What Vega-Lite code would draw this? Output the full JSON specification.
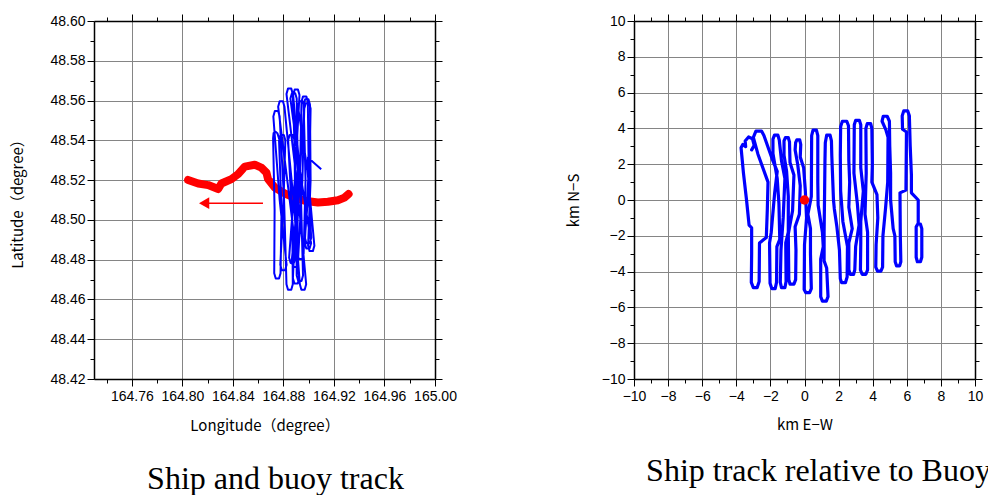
{
"$schema": "https://vega.github.io/schema/vega-lite/v6.json",
"padding": {"left": 10, "top": 13, "right": 0, "bottom": 6},
"spacing": 199,
"bounds": "flush",
"config": {
 "view": {"stroke": null},
 "axis": {"domainColor": "black", "domainWidth": 1.5, "tickColor": "black", "tickWidth": 1, "labelFont": "Liberation Sans", "labelFontSize": 14, "labelColor": "black", "labelOverlap": false, "labelFlush": false, "titleFont": "Noto Sans CJK JP", "titleFontSize": 15, "titleFontWeight": "normal", "titleColor": "black", "gridColor": "#858585", "gridWidth": 1}
},
"datasets": {
 "buoy": [
  {"i":1,"lon":164.8045,"lat":48.5201},{"i":2,"lon":164.8125,"lat":48.5183},{"i":3,"lon":164.8204,"lat":48.5175},{"i":4,"lon":164.8283,"lat":48.5155},{"i":5,"lon":164.8309,"lat":48.5183},{"i":6,"lon":164.8388,"lat":48.5205},{"i":7,"lon":164.8441,"lat":48.523},{"i":8,"lon":164.8494,"lat":48.5268},{"i":9,"lon":164.8573,"lat":48.5277},{"i":10,"lon":164.8625,"lat":48.5263},{"i":11,"lon":164.8665,"lat":48.5238},{"i":12,"lon":164.8678,"lat":48.5205},{"i":13,"lon":164.8731,"lat":48.5163},{"i":14,"lon":164.881,"lat":48.5133},{"i":15,"lon":164.8889,"lat":48.5112},{"i":16,"lon":164.8968,"lat":48.5096},{"i":17,"lon":164.9073,"lat":48.5087},{"i":18,"lon":164.9152,"lat":48.5091},{"i":19,"lon":164.9231,"lat":48.5099},{"i":20,"lon":164.9284,"lat":48.5112},{"i":21,"lon":164.9316,"lat":48.513}
 ],
 "arrow": [{"i":1,"lon":164.815,"lat":48.5084},{"i":2,"lon":164.8638,"lat":48.5084}],
 "head": [{"lon":164.8172,"lat":48.5084}],
 "ship": [
  {"i":1,"lon":164.877,"lat":48.54},{"i":2,"lon":164.8752,"lat":48.5436},{"i":3,"lon":164.8738,"lat":48.5443},{"i":4,"lon":164.8722,"lat":48.5436},{"i":5,"lon":164.8718,"lat":48.541},{"i":6,"lon":164.873,"lat":48.505},
  {"i":7,"lon":164.8727,"lat":48.4732},{"i":8,"lon":164.8739,"lat":48.4705},{"i":9,"lon":164.8765,"lat":48.4705},{"i":10,"lon":164.8777,"lat":48.4732},{"i":11,"lon":164.8785,"lat":48.505},
  {"i":12,"lon":164.8765,"lat":48.54},{"i":13,"lon":164.8777,"lat":48.5427},{"i":14,"lon":164.8803,"lat":48.5427},{"i":15,"lon":164.8815,"lat":48.54},{"i":16,"lon":164.88,"lat":48.508},
  {"i":17,"lon":164.8775,"lat":48.4774},{"i":18,"lon":164.8787,"lat":48.4747},{"i":19,"lon":164.8813,"lat":48.4747},{"i":20,"lon":164.8825,"lat":48.4774},{"i":21,"lon":164.877,"lat":48.51},
  {"i":22,"lon":164.872,"lat":48.552},{"i":23,"lon":164.8732,"lat":48.5547},{"i":24,"lon":164.8758,"lat":48.5547},{"i":25,"lon":164.877,"lat":48.552},{"i":26,"lon":164.8805,"lat":48.51},
  {"i":27,"lon":164.8824,"lat":48.4676},{"i":28,"lon":164.8836,"lat":48.4649},{"i":29,"lon":164.8862,"lat":48.4649},{"i":30,"lon":164.8874,"lat":48.4676},{"i":31,"lon":164.887,"lat":48.5},
  {"i":32,"lon":164.8837,"lat":48.54},{"i":33,"lon":164.8849,"lat":48.5427},{"i":34,"lon":164.8875,"lat":48.5427},{"i":35,"lon":164.8887,"lat":48.54},{"i":36,"lon":164.8895,"lat":48.5},
  {"i":37,"lon":164.8875,"lat":48.4707},{"i":38,"lon":164.8887,"lat":48.468},{"i":39,"lon":164.8913,"lat":48.468},{"i":40,"lon":164.8925,"lat":48.4707},{"i":41,"lon":164.884,"lat":48.515},
  {"i":42,"lon":164.8758,"lat":48.5569},{"i":43,"lon":164.877,"lat":48.5596},{"i":44,"lon":164.8796,"lat":48.5596},{"i":45,"lon":164.8808,"lat":48.5569},{"i":46,"lon":164.888,"lat":48.51},
  {"i":47,"lon":164.893,"lat":48.4676},{"i":48,"lon":164.8942,"lat":48.4649},{"i":49,"lon":164.8968,"lat":48.4649},{"i":50,"lon":164.898,"lat":48.4676},{"i":51,"lon":164.8905,"lat":48.52},
  {"i":52,"lon":164.8824,"lat":48.5633},{"i":53,"lon":164.8836,"lat":48.566},{"i":54,"lon":164.8862,"lat":48.566},{"i":55,"lon":164.8874,"lat":48.5633},{"i":56,"lon":164.89,"lat":48.515},
  {"i":57,"lon":164.8905,"lat":48.472},{"i":58,"lon":164.8917,"lat":48.4693},{"i":59,"lon":164.8943,"lat":48.4693},{"i":60,"lon":164.8955,"lat":48.472},{"i":61,"lon":164.8935,"lat":48.52},
  {"i":62,"lon":164.8877,"lat":48.5628},{"i":63,"lon":164.8889,"lat":48.5655},{"i":64,"lon":164.8915,"lat":48.5655},{"i":65,"lon":164.8927,"lat":48.5628},{"i":66,"lon":164.889,"lat":48.52},
  {"i":67,"lon":164.8845,"lat":48.481},{"i":68,"lon":164.8857,"lat":48.4783},{"i":69,"lon":164.8883,"lat":48.4783},{"i":70,"lon":164.8895,"lat":48.481},{"i":71,"lon":164.893,"lat":48.52},
  {"i":72,"lon":164.8943,"lat":48.5594},{"i":73,"lon":164.8955,"lat":48.5621},{"i":74,"lon":164.8981,"lat":48.5621},{"i":75,"lon":164.8993,"lat":48.5594},{"i":76,"lon":164.9,"lat":48.525},
  {"i":77,"lon":164.8969,"lat":48.4883},{"i":78,"lon":164.8981,"lat":48.4856},{"i":79,"lon":164.9007,"lat":48.4856},{"i":80,"lon":164.9019,"lat":48.4883},{"i":81,"lon":164.893,"lat":48.525},
  {"i":82,"lon":164.8855,"lat":48.561},{"i":83,"lon":164.8867,"lat":48.5637},{"i":84,"lon":164.8893,"lat":48.5637},{"i":85,"lon":164.8905,"lat":48.561},{"i":86,"lon":164.8915,"lat":48.52},
  {"i":87,"lon":164.891,"lat":48.483},{"i":88,"lon":164.8922,"lat":48.4803},{"i":89,"lon":164.8948,"lat":48.4803},{"i":90,"lon":164.896,"lat":48.483},{"i":91,"lon":164.8975,"lat":48.52},
  {"i":92,"lon":164.896,"lat":48.558},{"i":93,"lon":164.8972,"lat":48.5607},{"i":94,"lon":164.8998,"lat":48.5607},{"i":95,"lon":164.901,"lat":48.558},{"i":96,"lon":164.9015,"lat":48.52},
  {"i":97,"lon":164.8995,"lat":48.487},{"i":98,"lon":164.9007,"lat":48.4843},{"i":99,"lon":164.9033,"lat":48.4843},{"i":100,"lon":164.9045,"lat":48.487},{"i":101,"lon":164.899,"lat":48.525},
  {"i":102,"lon":164.8915,"lat":48.557},{"i":103,"lon":164.8927,"lat":48.5597},{"i":104,"lon":164.8953,"lat":48.5597},{"i":105,"lon":164.8965,"lat":48.557},{"i":106,"lon":164.892,"lat":48.515},
  {"i":107,"lon":164.8865,"lat":48.479},{"i":108,"lon":164.8877,"lat":48.4763},{"i":109,"lon":164.8903,"lat":48.4763},{"i":110,"lon":164.8915,"lat":48.479},{"i":111,"lon":164.895,"lat":48.52},
  {"i":112,"lon":164.8965,"lat":48.556},{"i":113,"lon":164.8977,"lat":48.5587},{"i":114,"lon":164.9003,"lat":48.5587},{"i":115,"lon":164.9015,"lat":48.556},{"i":116,"lon":164.9005,"lat":48.52},
  {"i":117,"lon":164.897,"lat":48.491},{"i":118,"lon":164.8982,"lat":48.4883},{"i":119,"lon":164.9008,"lat":48.4883},{"i":120,"lon":164.902,"lat":48.491},{"i":121,"lon":164.8998,"lat":48.515},
  {"i":122,"lon":164.8994,"lat":48.5314},{"i":123,"lon":164.9099,"lat":48.5255}
 ],
 "rel": [
  {"i":1,"x":-3.1,"y":2.8},{"i":2,"x":-2.95,"y":3.05},{"i":3,"x":-3.05,"y":3.42},{"i":4,"x":-3.28,"y":3.52},{"i":5,"x":-3.48,"y":3.3},{"i":6,"x":-3.45,"y":2.98},{"i":7,"x":-3.62,"y":3.1},{"i":8,"x":-3.72,"y":2.92},{"i":9,"x":-3.58,"y":1.5},{"i":10,"x":-3.4,"y":0},
  {"i":11,"x":-3.25,"y":-1.4},{"i":12,"x":-3.1,"y":-1.55},{"i":13,"x":-3.1,"y":-3},{"i":14,"x":-3.12,"y":-4.6},{"i":15,"x":-3,"y":-4.9},{"i":16,"x":-2.78,"y":-4.9},{"i":17,"x":-2.66,"y":-4.55},{"i":18,"x":-2.64,"y":-2.4},{"i":19,"x":-2.24,"y":-2.1},{"i":20,"x":-2.18,"y":-0.5},
  {"i":21,"x":-2.14,"y":1},{"i":22,"x":-2.73,"y":2.56},{"i":23,"x":-3,"y":3.5},{"i":24,"x":-2.85,"y":3.85},{"i":25,"x":-2.52,"y":3.85},{"i":26,"x":-2.38,"y":3.6},{"i":27,"x":-1.9,"y":2.3},{"i":28,"x":-1.6,"y":1.6},{"i":29,"x":-1.75,"y":0.4},{"i":30,"x":-1.95,"y":-1.8},
  {"i":31,"x":-2.05,"y":-2.4},{"i":32,"x":-2.02,"y":-4.65},{"i":33,"x":-1.92,"y":-4.95},{"i":34,"x":-1.72,"y":-4.95},{"i":35,"x":-1.64,"y":-4.6},{"i":36,"x":-1.62,"y":-2.6},{"i":37,"x":-1.45,"y":-2.2},{"i":38,"x":-1.5,"y":-0.2},{"i":39,"x":-1.6,"y":1.2},{"i":40,"x":-1.85,"y":2.6},
  {"i":41,"x":-1.85,"y":3.4},{"i":42,"x":-1.76,"y":3.62},{"i":43,"x":-1.56,"y":3.62},{"i":44,"x":-1.48,"y":3.35},{"i":45,"x":-1.35,"y":2.2},{"i":46,"x":-1.15,"y":1.2},{"i":47,"x":-1.25,"y":-1},{"i":48,"x":-1.38,"y":-2.8},{"i":49,"x":-1.42,"y":-4.6},{"i":50,"x":-1.35,"y":-4.9},
  {"i":51,"x":-1.15,"y":-4.9},{"i":52,"x":-1.08,"y":-4.55},{"i":53,"x":-1.1,"y":-2.4},{"i":54,"x":-0.95,"y":-1.8},{"i":55,"x":-0.95,"y":0.2},{"i":56,"x":-1.05,"y":1.6},{"i":57,"x":-1.2,"y":2.5},{"i":58,"x":-1.2,"y":3.3},{"i":59,"x":-1.12,"y":3.48},{"i":60,"x":-0.95,"y":3.48},
  {"i":61,"x":-0.88,"y":3.25},{"i":62,"x":-0.85,"y":2.1},{"i":63,"x":-0.62,"y":1.4},{"i":64,"x":-0.7,"y":-0.6},{"i":65,"x":-0.95,"y":-1.9},{"i":66,"x":-0.92,"y":-4.45},{"i":67,"x":-0.85,"y":-4.7},{"i":68,"x":-0.62,"y":-4.7},{"i":69,"x":-0.52,"y":-4.45},{"i":70,"x":-0.5,"y":-2.8},
  {"i":71,"x":-0.55,"y":-1.5},{"i":72,"x":-0.3,"y":-0.8},{"i":73,"x":-0.25,"y":0.8},{"i":74,"x":-0.4,"y":2},{"i":75,"x":-0.55,"y":2.8},{"i":76,"x":-0.52,"y":3.2},{"i":77,"x":-0.45,"y":3.36},{"i":78,"x":-0.28,"y":3.36},{"i":79,"x":-0.22,"y":3.1},{"i":80,"x":-0.25,"y":2.4},
  {"i":81,"x":-0.05,"y":1.8},{"i":82,"x":0.05,"y":0.5},{"i":83,"x":0.12,"y":-1},{"i":84,"x":0,"y":-2.5},{"i":85,"x":-0.02,"y":-5},{"i":86,"x":0.08,"y":-5.18},{"i":87,"x":0.3,"y":-5.18},{"i":88,"x":0.4,"y":-4.95},{"i":89,"x":0.35,"y":-3},{"i":90,"x":0.35,"y":-1.6},
  {"i":91,"x":0.2,"y":-0.8},{"i":92,"x":0.4,"y":0.2},{"i":93,"x":0.42,"y":3.6},{"i":94,"x":0.5,"y":3.9},{"i":95,"x":0.7,"y":3.9},{"i":96,"x":0.78,"y":3.6},{"i":97,"x":0.78,"y":1},{"i":98,"x":0.8,"y":-0.3},{"i":99,"x":1.05,"y":-1.8},{"i":100,"x":1.1,"y":-2.6},
  {"i":101,"x":0.95,"y":-3.3},{"i":102,"x":0.95,"y":-5.4},{"i":103,"x":1.05,"y":-5.65},{"i":104,"x":1.28,"y":-5.65},{"i":105,"x":1.38,"y":-5.4},{"i":106,"x":1.3,"y":-3.8},{"i":107,"x":1.15,"y":-3.4},{"i":108,"x":1.15,"y":-1.8},{"i":109,"x":1.18,"y":0.5},{"i":110,"x":1.2,"y":2.2},
  {"i":111,"x":1.22,"y":3.2},{"i":112,"x":1.3,"y":3.62},{"i":113,"x":1.5,"y":3.62},{"i":114,"x":1.58,"y":3.3},{"i":115,"x":1.6,"y":2.5},{"i":116,"x":1.7,"y":0},{"i":117,"x":1.75,"y":-0.5},{"i":118,"x":1.9,"y":-1.5},{"i":119,"x":2.05,"y":-2.8},{"i":120,"x":2.1,"y":-4.4},
  {"i":121,"x":2.18,"y":-4.62},{"i":122,"x":2.4,"y":-4.62},{"i":123,"x":2.5,"y":-4.3},{"i":124,"x":2.52,"y":-2.6},{"i":125,"x":2.25,"y":-1.2},{"i":126,"x":2.12,"y":0.5},{"i":127,"x":2.1,"y":2.5},{"i":128,"x":2.12,"y":4.1},{"i":129,"x":2.22,"y":4.4},{"i":130,"x":2.48,"y":4.4},
  {"i":131,"x":2.58,"y":4.15},{"i":132,"x":2.6,"y":2.2},{"i":133,"x":2.65,"y":1},{"i":134,"x":2.6,"y":-0.4},{"i":135,"x":2.8,"y":-1.6},{"i":136,"x":2.6,"y":-2.4},{"i":137,"x":2.6,"y":-3.9},{"i":138,"x":2.68,"y":-4.15},{"i":139,"x":2.88,"y":-4.15},{"i":140,"x":2.95,"y":-3.9},
  {"i":141,"x":3,"y":-2.6},{"i":142,"x":3.2,"y":-1.4},{"i":143,"x":3.1,"y":-0.2},{"i":144,"x":2.9,"y":1.5},{"i":145,"x":2.92,"y":4.2},{"i":146,"x":3,"y":4.45},{"i":147,"x":3.22,"y":4.45},{"i":148,"x":3.3,"y":4.2},{"i":149,"x":3.3,"y":1.8},{"i":150,"x":3.45,"y":0.5},
  {"i":151,"x":3.3,"y":-1.2},{"i":152,"x":3.3,"y":-2.4},{"i":153,"x":3.28,"y":-3.9},{"i":154,"x":3.38,"y":-4.15},{"i":155,"x":3.6,"y":-4.15},{"i":156,"x":3.7,"y":-3.9},{"i":157,"x":3.7,"y":-1.8},{"i":158,"x":3.55,"y":-0.8},{"i":159,"x":3.62,"y":1.5},{"i":160,"x":3.6,"y":4},
  {"i":161,"x":3.68,"y":4.27},{"i":162,"x":3.88,"y":4.27},{"i":163,"x":3.95,"y":4},{"i":164,"x":3.98,"y":2},{"i":165,"x":3.95,"y":1},{"i":166,"x":4.25,"y":0.3},{"i":167,"x":4.3,"y":-1},{"i":168,"x":4.2,"y":-2.5},{"i":169,"x":4.18,"y":-3.75},{"i":170,"x":4.28,"y":-3.97},
  {"i":171,"x":4.48,"y":-3.97},{"i":172,"x":4.58,"y":-3.75},{"i":173,"x":4.6,"y":-2},{"i":174,"x":4.75,"y":-0.5},{"i":175,"x":4.88,"y":1},{"i":176,"x":4.9,"y":3.5},{"i":177,"x":4.78,"y":3.9},{"i":178,"x":4.55,"y":4.4},{"i":179,"x":4.62,"y":4.68},{"i":180,"x":4.85,"y":4.68},
  {"i":181,"x":4.98,"y":4.4},{"i":182,"x":5,"y":3},{"i":183,"x":5.05,"y":1.5},{"i":184,"x":5.05,"y":0},{"i":185,"x":5.2,"y":-1.6},{"i":186,"x":5.3,"y":-2},{"i":187,"x":5.32,"y":-3.45},{"i":188,"x":5.4,"y":-3.68},{"i":189,"x":5.58,"y":-3.68},{"i":190,"x":5.65,"y":-3.45},
  {"i":191,"x":5.62,"y":-2},{"i":192,"x":5.6,"y":0.4},{"i":193,"x":5.95,"y":0.55},{"i":194,"x":5.98,"y":3.8},{"i":195,"x":5.75,"y":3.95},{"i":196,"x":5.73,"y":4.7},{"i":197,"x":5.82,"y":4.98},{"i":198,"x":6.05,"y":4.98},{"i":199,"x":6.15,"y":4.7},{"i":200,"x":6.2,"y":3},
  {"i":201,"x":6.27,"y":1.4},{"i":202,"x":6.27,"y":0.4},{"i":203,"x":6.67,"y":0},{"i":204,"x":6.67,"y":-1.3},{"i":205,"x":6.55,"y":-1.5},{"i":206,"x":6.55,"y":-3.2},{"i":207,"x":6.62,"y":-3.45},{"i":208,"x":6.8,"y":-3.45},{"i":209,"x":6.88,"y":-3.2},{"i":210,"x":6.88,"y":-1.6},
  {"i":211,"x":6.8,"y":-1.35}
 ],
 "origin": [{"x":0,"y":0}]
},
"hconcat": [
 {
  "width": 341, "height": 358,
  "title": {"text": "Ship and buoy track", "orient": "bottom", "anchor": "middle", "frame": "group", "font": "Liberation Serif", "fontSize": 32, "fontWeight": "normal", "color": "black", "offset": 31, "dx": 11},
  "layer": [
   {"data": {"name": "buoy"},
    "mark": {"type": "line", "color": "#ff0000", "strokeWidth": 8, "strokeCap": "round", "strokeJoin": "round"},
    "encoding": {
     "x": {"field": "lon", "type": "quantitative", "scale": {"domain": [164.73, 165.0], "nice": false, "zero": false},
      "axis": {"orient": "bottom", "title": "Longitude（degree）", "format": ".2f", "values": [164.74,164.76,164.78,164.8,164.82,164.84,164.86,164.88,164.9,164.92,164.94,164.96,164.98,165.0],
       "labelExpr": "abs(datum.value*25 - round(datum.value*25)) < 0.01 ? datum.label : ''",
       "tickSize": {"condition": {"test": "abs(datum.value*25 - round(datum.value*25)) < 0.01", "value": 7}, "value": 4},
       "gridOpacity": {"condition": {"test": "abs(datum.value*25 - round(datum.value*25)) < 0.01", "value": 1}, "value": 0},
       "labelPadding": 3, "titlePadding": 15, "grid": true}},
     "y": {"field": "lat", "type": "quantitative", "scale": {"domain": [48.42, 48.6], "nice": false, "zero": false},
      "axis": {"orient": "left", "title": "Latitude（degree）", "format": ".2f", "values": [48.42,48.43,48.44,48.45,48.46,48.47,48.48,48.49,48.5,48.51,48.52,48.53,48.54,48.55,48.56,48.57,48.58,48.59,48.6],
       "labelExpr": "abs(datum.value*50 - round(datum.value*50)) < 0.01 ? datum.label : ''",
       "tickSize": {"condition": {"test": "abs(datum.value*50 - round(datum.value*50)) < 0.01", "value": 7}, "value": 4},
       "gridOpacity": {"condition": {"test": "abs(datum.value*50 - round(datum.value*50)) < 0.01", "value": 1}, "value": 0},
       "labelPadding": 2, "titlePadding": 24, "grid": true}},
     "order": {"field": "i"}
    }},
   {"data": {"name": "ship"},
    "mark": {"type": "line", "color": "#0000ff", "strokeWidth": 2, "strokeJoin": "round"},
    "encoding": {
     "x": {"field": "lon", "type": "quantitative",
      "axis": {"orient": "top", "title": null, "labels": false, "grid": false, "values": [164.74,164.76,164.78,164.8,164.82,164.84,164.86,164.88,164.9,164.92,164.94,164.96,164.98,165.0],
       "tickSize": {"condition": {"test": "abs(datum.value*25 - round(datum.value*25)) < 0.01", "value": 7}, "value": 4}}},
     "y": {"field": "lat", "type": "quantitative",
      "axis": {"orient": "right", "title": null, "labels": false, "grid": false, "values": [48.42,48.43,48.44,48.45,48.46,48.47,48.48,48.49,48.5,48.51,48.52,48.53,48.54,48.55,48.56,48.57,48.58,48.59,48.6],
       "tickSize": {"condition": {"test": "abs(datum.value*50 - round(datum.value*50)) < 0.01", "value": 7}, "value": 4}}},
     "order": {"field": "i"}
    }},
   {"data": {"name": "arrow"},
    "mark": {"type": "line", "color": "#ff0000", "strokeWidth": 1.5},
    "encoding": {"x": {"field": "lon", "type": "quantitative", "axis": null}, "y": {"field": "lat", "type": "quantitative", "axis": null}, "order": {"field": "i"}}},
   {"data": {"name": "head"},
    "mark": {"type": "point", "shape": "triangle-left", "filled": true, "color": "#ff0000", "size": 140, "opacity": 1, "strokeWidth": 0},
    "encoding": {"x": {"field": "lon", "type": "quantitative", "axis": null}, "y": {"field": "lat", "type": "quantitative", "axis": null}}}
  ],
  "resolve": {"axis": {"x": "independent", "y": "independent"}}
 },
 {
  "width": 341, "height": 358,
  "title": {"text": "Ship track relative to Buoy", "orient": "bottom", "anchor": "middle", "frame": "group", "font": "Liberation Serif", "fontSize": 32, "fontWeight": "normal", "color": "black", "offset": 24, "dx": 14},
  "layer": [
   {"data": {"name": "rel"},
    "mark": {"type": "line", "color": "#0000ff", "strokeWidth": 3.2, "strokeJoin": "round", "strokeCap": "round"},
    "encoding": {
     "x": {"field": "x", "type": "quantitative", "scale": {"domain": [-10, 10], "nice": false},
      "axis": {"orient": "bottom", "title": "km E−W", "format": "d", "values": [-10,-9,-8,-7,-6,-5,-4,-3,-2,-1,0,1,2,3,4,5,6,7,8,9,10],
       "labelExpr": "datum.value % 2 == 0 ? datum.label : ''",
       "tickSize": {"condition": {"test": "datum.value % 2 == 0", "value": 7}, "value": 4},
       "gridOpacity": {"condition": {"test": "datum.value % 2 == 0", "value": 1}, "value": 0},
       "labelPadding": 3, "titlePadding": 14, "grid": true}},
     "y": {"field": "y", "type": "quantitative", "scale": {"domain": [-10, 10], "nice": false},
      "axis": {"orient": "left", "title": "km N−S", "format": "d", "values": [-10,-9,-8,-7,-6,-5,-4,-3,-2,-1,0,1,2,3,4,5,6,7,8,9,10],
       "labelExpr": "datum.value % 2 == 0 ? datum.label : ''",
       "tickSize": {"condition": {"test": "datum.value % 2 == 0", "value": 7}, "value": 4},
       "gridOpacity": {"condition": {"test": "datum.value % 2 == 0", "value": 1}, "value": 0},
       "labelPadding": 2, "titlePadding": 20, "grid": true}},
     "order": {"field": "i"}
    }},
   {"data": {"name": "origin"},
    "mark": {"type": "circle", "color": "#ff0000", "size": 90, "opacity": 1},
    "encoding": {
     "x": {"field": "x", "type": "quantitative",
      "axis": {"orient": "top", "title": null, "labels": false, "grid": false, "values": [-10,-9,-8,-7,-6,-5,-4,-3,-2,-1,0,1,2,3,4,5,6,7,8,9,10],
       "tickSize": {"condition": {"test": "datum.value % 2 == 0", "value": 7}, "value": 4}}},
     "y": {"field": "y", "type": "quantitative",
      "axis": {"orient": "right", "title": null, "labels": false, "grid": false, "values": [-10,-9,-8,-7,-6,-5,-4,-3,-2,-1,0,1,2,3,4,5,6,7,8,9,10],
       "tickSize": {"condition": {"test": "datum.value % 2 == 0", "value": 7}, "value": 4}}}
    }}
  ],
  "resolve": {"axis": {"x": "independent", "y": "independent"}}
 }
]
}
